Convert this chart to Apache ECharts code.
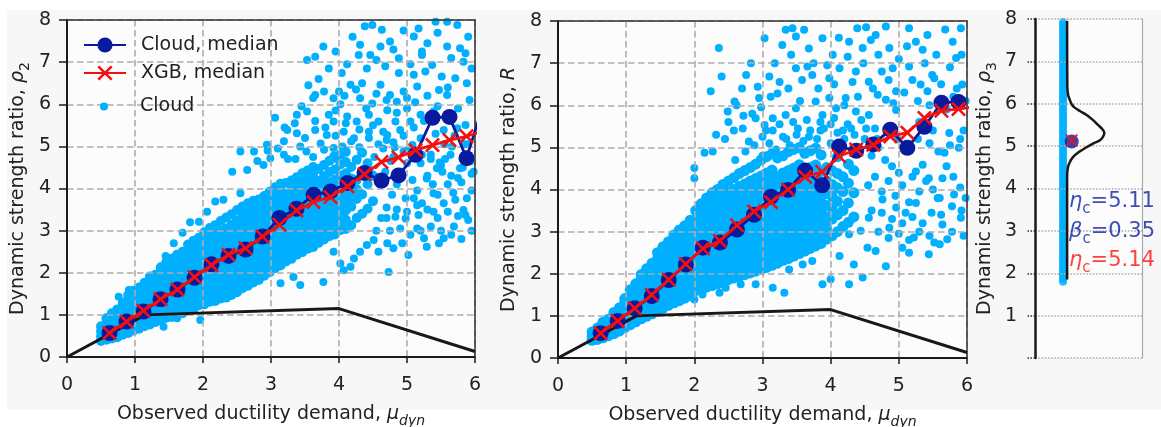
<!DOCTYPE html>
<html>
<head>
<meta charset="utf-8">
<script src="https://cdn.jsdelivr.net/npm/echarts/dist/echarts.min.js"></script>
<style>
  html, body { margin: 0; padding: 0; background: #ffffff; }
  #chart { width: 1161px; height: 427px; }
</style>
</head>
<body>
<div id="chart"></div>
<script>
// ---------------------------------------------------------------------------
// Data (all cloud coordinates are given in hundredths)
// ---------------------------------------------------------------------------

// Bin centres of the ductility demand used for the medians
const binMu = [0.625, 0.875, 1.125, 1.375, 1.625, 1.875, 2.125, 2.375, 2.625, 2.875,
  3.125, 3.375, 3.625, 3.875, 4.125, 4.375, 4.625, 4.875, 5.125, 5.375, 5.625, 5.875, 6.125];

// Panel 1 (rho_2): medians of the cloud and of the XGB prediction
const rho2CloudMedian = [0.57, 0.84, 1.08, 1.37, 1.60, 1.88, 2.20, 2.40, 2.55, 2.86,
  3.30, 3.52, 3.85, 3.93, 4.13, 4.37, 4.19, 4.31, 4.80, 5.68, 5.70, 4.72, 6.00];
const rho2XgbMedian = [0.57, 0.84, 1.10, 1.37, 1.60, 1.90, 2.18, 2.43, 2.58, 2.86,
  3.14, 3.48, 3.68, 3.80, 4.05, 4.34, 4.63, 4.74, 4.91, 5.03, 5.15, 5.24, 5.36];

// Panel 2 (R): medians of the cloud and of the XGB prediction
const rCloudMedian = [0.59, 0.88, 1.18, 1.47, 1.85, 2.22, 2.62, 2.74, 3.05, 3.40,
  3.83, 3.99, 4.45, 4.10, 5.02, 4.92, 5.07, 5.42, 4.99, 5.49, 6.06, 6.08];
const rXgbMedian = [0.59, 0.88, 1.18, 1.50, 1.86, 2.23, 2.60, 2.78, 3.15, 3.48,
  3.70, 4.00, 4.30, 4.42, 4.79, 4.95, 5.06, 5.26, 5.35, 5.70, 5.87, 5.91, 5.97];

// Backbone curve of the SDOF system
const backboneMu = [0, 1.15, 4.0, 6.0];
const backboneRho = [0, 1.0, 1.15, 0.13];

// Panel 1 cloud: dense core as columns [x, y1, y2, ...]
const rho2CloudCore = [
  [50, 38,49,61,73], [58, 41,53,66,79,92], [66, 44,56,69,81,94,104], [74, 47,60,72,86,99,113],
  [82, 53,65,79,92,105,118,128], [90, 57,71,84,98,111,125,137,147],
  [98, 63,76,90,105,118,131,146,157], [106, 67,80,95,109,122,137,151,165],
  [114, 73,87,100,115,129,144,158,176], [122, 77,91,106,119,135,149,164,178,191],
  [130, 83,97,113,126,142,155,171,185,195], [138, 87,102,116,132,145,161,176,190,204,213],
  [146, 93,107,124,137,154,168,183,197,213,225], [154, 95,111,126,142,157,173,188,203,218,233],
  [162, 101,117,131,148,163,179,195,210,226,243], [170, 104,121,136,153,168,185,201,216,233,250],
  [178, 111,126,143,158,175,191,206,223,239,254,267], [186, 114,131,147,164,180,197,212,229,245,261,276],
  [194, 123,139,156,172,189,205,222,238,254,270,283], [202, 125,143,159,176,194,210,227,245,261,278,296],
  [210, 131,147,165,182,199,217,233,251,268,285,306], [218, 133,151,168,186,203,221,238,256,273,291,313],
  [226, 139,157,174,193,210,228,246,263,282,299,323], [234, 141,160,177,196,214,232,251,268,287,305,331],
  [242, 147,165,184,202,221,239,258,277,295,314,339], [250, 154,172,191,210,229,248,267,286,305,324,349],
  [258, 163,181,201,219,239,258,277,297,316,335,357], [266, 169,188,207,227,246,266,285,305,324,344,365],
  [274, 177,196,216,236,255,275,294,314,334,353,371], [282, 183,203,223,243,262,282,302,322,342,362,374],
  [290, 193,213,232,253,272,293,312,332,352,371,382], [298, 201,221,241,261,281,301,321,341,361,381,392],
  [306, 211,230,251,270,291,310,331,350,370,388,403], [314, 217,237,257,278,297,318,338,358,378,396,411],
  [322, 227,246,267,286,307,327,347,367,387,413], [330, 233,254,274,294,314,335,355,375,396,419],
  [338, 243,263,283,304,324,345,365,386,406,427], [346, 249,270,290,311,332,352,373,393,414,436],
  [354, 257,277,298,319,340,360,381,402,422,443], [362, 261,282,303,324,345,366,387,408,429,451],
  [370, 271,292,313,334,355,376,397,418,446], [378, 279,300,321,342,364,385,406,429,456],
  [386, 287,308,330,351,372,394,415,439,466], [394, 291,313,334,356,377,399,420,445,473],
  [402, 301,322,344,366,387,409,431,457,481], [410, 304,326,348,370,392,414,436,463,487],
  [418, 313,357,380,402,424,451], [426, 330,375,398,420,468],
  [434, 340,386,433,485], [442, 352,410,460], [450, 370,430]
];
// Panel 1 cloud: scattered records as x,y pairs
const rho2CloudSparse = [
  449,788, 463,777, 517,780, 542,796, 559,796, 574,788,
  377,737, 395,725, 431,741, 461,737, 475,749, 510,761, 522,725, 559,737, 578,733, 586,721,
  353,705, 365,713, 429,717, 446,717, 488,709, 522,717, 537,693, 583,701,
  441,685, 488,674, 510,670, 527,678, 551,666, 571,662, 588,650,
  404,674, 417,646, 434,650, 461,646, 475,622, 495,630, 515,642, 547,634, 559,622,
  365,622, 392,614, 402,600, 431,614, 449,602, 471,586, 485,606, 500,590, 520,575, 539,583,
  338,575, 353,583, 385,575, 392,559, 412,571, 426,559, 444,575, 458,559, 483,559, 505,559, 586,551,
  306,568, 324,539, 338,531, 365,539, 382,527, 407,535, 422,519, 444,535, 471,527, 490,539, 520,519, 554,539, 574,543,
  255,488, 275,488, 294,504, 319,512, 343,500, 373,507, 392,496,
  243,440, 265,444, 289,456, 299,472, 319,480,
  336,470, 352,488, 362,475, 378,492, 392,478, 405,500, 418,512, 430,498, 444,520, 458,505, 470,515,
  482,498, 495,488, 508,503, 522,480, 535,470, 548,462,
  355,645, 370,660, 385,685, 400,630, 412,695, 420,760, 438,785, 455,705, 468,690, 480,730, 495,775,
  505,695, 530,745, 545,770, 565,710, 590,760, 595,685,
  345,595, 362,615, 378,630, 395,585, 408,620, 425,635, 440,590, 455,625, 470,610, 485,580, 500,615,
  512,605, 530,620, 545,595, 560,640, 575,590, 592,610,
  320,545, 335,555, 350,520, 365,560, 380,545, 395,525, 410,555, 430,540, 450,550, 465,535, 480,510,
  495,525, 510,545, 525,560, 542,530, 555,505, 570,525, 585,505,
  465,495, 480,475, 500,490, 520,460, 535,480, 550,455, 565,430, 580,415, 595,435,
  280,465, 295,490, 310,495, 325,470,
  564,480, 578,448, 593,464, 544,448, 529,424, 556,470, 566,500, 590,505,
  539,389, 571,373, 588,377, 595,395, 517,337, 539,345, 554,365, 583,349, 586,337,
  525,282, 529,262, 554,282, 547,270, 569,310, 493,270, 502,242, 471,270, 480,258, 473,202,
  515,305, 498,329, 510,377, 483,333, 498,377,
  455,300, 462,330, 470,355, 478,385, 485,410, 492,440, 500,460, 508,420, 515,395, 522,365,
  530,430, 538,410, 545,385, 552,440, 560,410, 568,390, 575,425, 582,450, 598,440,
  460,410, 468,440, 476,465, 452,475, 445,445,
  470,330, 485,350, 500,345, 515,360, 530,350, 545,330, 560,345, 575,335, 590,325,
  475,300, 490,305, 505,290, 520,300, 535,310, 550,300, 565,290, 580,280, 595,300,
  417,214, 407,206, 422,234, 377,178, 343,171, 314,175, 333,190, 294,200, 392,250, 402,222,
  431,250, 451,278, 458,250, 441,266,
  76,143, 91,159, 142,72, 196,88, 162,92, 125,100,
  157,270, 181,320, 194,321, 206,345, 218,369, 230,373, 255,389, 170,295, 145,240
];

// Panel 2 cloud: dense core as columns [x, y1, y2, ...]
const rCloudCore = [
  [50, 42,52,62], [58, 44,54,63,71], [66, 48,58,68,77,85], [74, 53,63,73,83,92],
  [82, 58,69,79,90,100,108], [90, 64,75,86,97,108,119], [98, 72,84,96,107,119,131,141],
  [106, 79,91,103,116,128,140,152,162], [114, 86,99,112,125,138,151,164,176],
  [122, 93,107,120,134,147,161,174,188,198], [130, 99,113,128,142,156,170,185,199,212],
  [138, 105,120,135,149,164,179,194,209,225], [146, 111,126,142,157,173,188,204,219,235,250],
  [154, 118,134,150,166,182,198,214,230,246,264], [162, 125,141,158,174,191,207,224,240,257,276],
  [170, 131,148,165,182,199,216,233,250,267,284,292], [178, 136,153,171,188,206,223,241,258,276,293,304],
  [186, 142,160,178,196,214,232,250,268,286,304,314], [194, 148,166,185,203,222,240,259,277,296,314,327],
  [202, 160,178,197,216,234,253,272,290,309,328,350], [210, 164,183,202,222,241,260,279,298,317,337,356,366],
  [218, 168,188,207,227,247,266,286,305,325,345,364,380], [226, 172,192,212,232,252,272,292,311,331,351,371,392],
  [234, 176,196,216,237,257,277,297,318,338,358,378,400], [242, 180,201,221,242,262,283,303,324,344,365,385,412],
  [250, 186,207,228,248,269,290,311,331,352,373,394,420], [258, 190,211,232,253,274,295,316,337,358,379,400,428],
  [266, 194,215,237,258,279,300,322,343,364,385,407,438], [274, 198,220,241,263,284,306,327,349,370,392,413,445],
  [282, 202,224,246,267,289,311,333,354,376,398,420,452], [290, 206,228,250,272,294,316,338,360,382,404,426,460],
  [298, 210,232,255,277,299,321,343,366,388,410,432,470], [306, 215,237,260,282,305,327,349,372,394,417,439,478],
  [314, 220,243,265,288,310,333,355,378,400,423,446,485], [322, 225,248,270,293,316,339,361,384,407,430,475],
  [330, 232,255,278,301,324,347,370,393,416,439,480], [338, 236,259,283,306,329,352,375,398,422,445,490],
  [346, 242,265,288,312,335,358,382,405,428,451,495], [354, 248,272,295,318,342,365,389,412,436,459,500],
  [362, 254,278,302,326,350,373,397,421,445,486], [370, 260,284,308,332,356,380,404,428,452,492],
  [378, 266,290,314,338,362,386,410,434,458,498], [386, 272,296,321,345,369,394,418,443,482],
  [394, 282,310,335,362,390,420,452], [402, 290,330,356,384,412,445],
  [410, 300,340,372,404,438,478], [418, 312,350,395,430],
  [426, 322,368,415,460], [434, 335,392,445]
];
// Panel 2 cloud: scattered records as x,y pairs
const rCloudSparse = [
  236,736, 224,633, 240,668, 276,672, 249,585, 259,609, 232,530,
  200,451, 200,427, 215,487, 227,490,
  283,700, 295,617, 293,644, 303,759, 310,668, 322,628, 329,743, 334,779, 344,783, 349,763, 361,779,
  349,688, 366,692, 373,672, 388,759, 403,720, 398,664, 413,688, 427,751, 439,783, 447,736, 437,680,
  459,755, 466,767, 481,787, 486,736, 491,688, 515,783, 525,751, 535,732, 542,767, 549,672, 579,751,
  584,712, 591,783, 515,692, 532,649, 552,664, 542,633, 593,649,
  456,656, 469,625, 481,613, 496,633, 496,589, 456,577, 437,585, 422,617, 408,593, 398,617, 378,609,
  388,577, 349,593, 334,577, 315,569, 303,553, 290,569, 280,514, 271,545,
  250,560, 262,600, 270,640, 285,580, 298,595, 312,620, 318,700, 325,655, 338,640, 342,720, 355,610,
  358,660, 368,735, 375,700, 382,640, 395,695, 405,650, 412,760, 420,600, 425,715, 432,655, 440,620,
  448,700, 452,785, 462,640, 470,720, 475,680, 485,660, 492,605, 500,710, 508,630, 512,740, 520,660,
  528,610, 538,700, 545,600, 555,720, 562,650, 568,780, 575,690, 585,640, 592,720, 598,610,
  300,525, 315,540, 335,520, 352,545, 368,525, 385,540, 400,555, 418,540, 435,530, 452,545, 468,520,
  482,540, 498,520, 512,500, 528,520, 545,510, 558,490, 575,505, 590,520,
  260,470, 275,490, 288,505, 245,520, 258,540, 272,575,
  567,487, 574,534, 588,499, 535,459, 525,443, 544,427, 564,427,
  591,333, 581,388, 564,317, 552,274, 544,246, 571,282, 522,286, 515,250, 505,262, 486,309, 481,218,
  466,254, 454,262, 447,191, 434,222, 427,175, 413,242, 400,187, 388,175, 373,230, 359,222, 339,210,
  332,155, 315,167, 290,175, 268,175, 246,167, 237,155, 212,151, 200,139,
  525,368, 510,345, 557,380, 496,357, 476,376, 456,333, 444,302, 427,294,
  460,350, 475,345, 490,330, 505,320, 520,335, 535,320, 548,345, 562,340, 578,360, 592,350,
  470,300, 485,285, 500,295, 515,280, 530,300, 545,290, 560,270, 578,300, 595,290,
  300,480, 310,510, 320,495, 330,525, 340,505, 350,530, 360,515, 370,540, 380,520, 390,545, 400,510,
  410,535, 420,520, 430,545, 440,500, 450,520, 460,480, 470,500, 480,470, 490,455, 500,440,
  305,540, 325,555, 345,560, 365,565, 385,560, 405,570, 425,555, 445,565, 465,545,
  455,410, 465,430, 475,395, 485,420, 495,385, 505,410, 515,370, 520,430, 530,395, 540,420, 550,400,
  560,380, 570,455, 580,430, 590,405, 598,380,
  530,560, 550,540, 570,590, 590,600, 595,540, 580,620, 560,600
];

// Panel 3 (rho_3): cloud values, hundredths
const rho3Cloud = [
  180,185,189,196,201,207,214,218,225,231,236,243,249,254,261,267,272,279,285,290,297,302,309,314,
  320,327,332,338,345,350,356,363,368,374,381,386,392,399,404,410,416,421,428,434,439,446,451,457,
  463,468,474,480,485,492,497,503,509,514,520,527,532,538,544,549,556,561,567,573,578,585,590,596,
  602,607,614,619,625,631,636,643,648,654,660,665,672,677,683,689,694,701,706,712,718,723,730,735,
  741,747,752,759,764,770,776,781,787,793
];
// Fitted density drawn beside the cloud: rho_3 level and horizontal offset
const pdfRho = [1.85, 4.30, 4.50, 4.62, 4.74, 4.86, 4.98, 5.07, 5.14, 5.22, 5.31, 5.40, 5.50,
  5.62, 5.73, 5.83, 5.92, 6.00, 6.08, 6.20, 6.40, 7.95];
const pdfOffset = [0.300, 0.300, 0.308, 0.325, 0.355, 0.410, 0.486, 0.550, 0.607, 0.635, 0.648, 0.630,
  0.589, 0.540, 0.486, 0.420, 0.365, 0.340, 0.327, 0.310, 0.302, 0.300];
const etaCloud = 5.11;
const betaCloud = 0.35;
const etaXgb = 5.14;

// ---------------------------------------------------------------------------
// Helpers
// ---------------------------------------------------------------------------
const fromColumns = cols => {
  const out = [];
  cols.forEach(c => { for (let i = 1; i < c.length; i++) out.push([c[0] / 100, c[i] / 100]); });
  return out;
};
const fromPairs = a => {
  const out = [];
  for (let i = 0; i < a.length; i += 2) out.push([a[i] / 100, a[i + 1] / 100]);
  return out;
};
const zip = (xs, ys) => ys.map((y, i) => [xs[i], y]);

const FONT = 'DejaVu Sans';
const INK = '#222222';
const CLOUD = '#00b0ff';
const NAVY = '#0a1a9c';
const RED = '#f50f0f';
const TEXT_BLUE = '#0f21a0';
const TEXT_RED = '#ff1010';
const XMARK = 'path://M0,1.2L1.2,0L5,3.8L8.8,0L10,1.2L6.2,5L10,8.8L8.8,10L5,6.2L1.2,10L0,8.8L3.8,5Z';

const nameStyle = {
  fontSize: 19, fontFamily: FONT, color: INK, lineHeight: 28,
  rich: {
    i: { fontSize: 19, fontFamily: FONT, color: INK, fontStyle: 'italic', lineHeight: 28 },
    s: { fontSize: 14, fontFamily: FONT, color: INK, lineHeight: 16, verticalAlign: 'bottom' },
    si: { fontSize: 14, fontFamily: FONT, color: INK, fontStyle: 'italic', lineHeight: 16, verticalAlign: 'bottom' }
  }
};
const tickFont = { fontSize: 19, fontFamily: FONT, color: INK };
const dashed = { color: '#acacac', width: 1.6, type: [6.5, 3.5] };

function mainX(gi) {
  return [{
    gridIndex: gi, type: 'value', min: 0, max: 6, interval: 1, position: 'bottom', z: 3,
    axisLine: { show: true, onZero: false, lineStyle: { color: '#1a1a1a', width: 2 } },
    axisTick: { show: true, length: 6, lineStyle: { color: '#1a1a1a', width: 1.5 } },
    axisLabel: Object.assign({ margin: 19 }, tickFont),
    splitLine: { show: true, lineStyle: dashed },
    name: 'Observed ductility demand, {i|μ}{si|dyn}', nameLocation: 'middle', nameGap: 41,
    nameTextStyle: nameStyle
  }, {
    gridIndex: gi, type: 'value', min: 0, max: 6, position: 'top', z: 4,
    axisLine: { show: true, onZero: false, lineStyle: { color: '#333333', width: 1.5 } },
    axisTick: { show: false }, axisLabel: { show: false }, splitLine: { show: false }
  }];
}
function mainY(gi, name) {
  return [{
    gridIndex: gi, type: 'value', min: 0, max: 8, interval: 1, position: 'left', z: 3,
    axisLine: { show: true, onZero: false, lineStyle: { color: '#1a1a1a', width: 2 } },
    axisTick: { show: true, length: 8, lineStyle: { color: '#1a1a1a', width: 1.5 } },
    axisLabel: Object.assign({ margin: 16 }, tickFont),
    splitLine: { show: true, lineStyle: dashed },
    name: name, nameLocation: 'middle', nameGap: 35, nameTextStyle: nameStyle
  }, {
    gridIndex: gi, type: 'value', min: 0, max: 8, position: 'right', z: 4,
    axisLine: { show: true, onZero: false, lineStyle: { color: '#333333', width: 1.5 } },
    axisTick: { show: false }, axisLabel: { show: false }, splitLine: { show: false }
  }];
}

function panelSeries(xi, yi, core, coreSize, sparse, cloudMed, xgbMed) {
  return [
    { type: 'scatter', name: 'Cloud', xAxisIndex: xi, yAxisIndex: yi, z: 1,
      data: fromColumns(core), symbol: 'circle', symbolSize: coreSize,
      itemStyle: { color: CLOUD, opacity: 1 } },
    { type: 'scatter', name: 'Cloud', xAxisIndex: xi, yAxisIndex: yi, z: 1,
      data: fromPairs(sparse), symbol: 'circle', symbolSize: 8,
      itemStyle: { color: CLOUD, opacity: 1 } },
    { type: 'line', name: 'backbone', xAxisIndex: xi, yAxisIndex: yi, z: 4, silent: true,
      data: zip(backboneMu, backboneRho), symbol: 'none',
      lineStyle: { color: '#1c1614', width: 3 } },
    { type: 'line', name: 'Cloud, median', xAxisIndex: xi, yAxisIndex: yi, z: 5,
      data: zip(binMu, cloudMed), symbol: 'circle', symbolSize: 16, showAllSymbol: true,
      lineStyle: { color: NAVY, width: 2.8 }, itemStyle: { color: NAVY } },
    { type: 'line', name: 'XGB, median', xAxisIndex: xi, yAxisIndex: yi, z: 6,
      data: zip(binMu, xgbMed), symbol: XMARK, symbolSize: 15, showAllSymbol: true,
      lineStyle: { color: RED, width: 2.8 }, itemStyle: { color: RED } }
  ];
}

const legendBase = {
  orient: 'vertical', left: 83, itemWidth: 42, selectedMode: false, padding: 0,
  textStyle: { fontSize: 19, fontFamily: FONT, color: INK, padding: [0, 0, 0, 10] }
};

const option = {
  animation: false,
  backgroundColor: '#ffffff',
  graphic: [{
    type: 'rect', left: 7, top: 10, z: -10, silent: true,
    shape: { width: 1154, height: 400 }, style: { fill: '#f7f7f7' }
  }],
  grid: [
    { left: 67, top: 20, width: 408, height: 337, show: true, backgroundColor: '#fcfcfc', borderWidth: 0, outerBoundsMode: 'none' },
    { left: 558, top: 21, width: 409, height: 337, show: true, backgroundColor: '#fcfcfc', borderWidth: 0, outerBoundsMode: 'none' },
    { left: 1035, top: 19, width: 107, height: 339, show: true, backgroundColor: '#fcfcfc', borderWidth: 0, outerBoundsMode: 'none' }
  ],
  xAxis: [
    ...mainX(0), ...mainX(1),
    { gridIndex: 2, type: 'value', min: 0, max: 1, show: false }
  ],
  yAxis: [
    ...mainY(0, 'Dynamic strength ratio, {i|ρ}{s|2}'),
    ...mainY(1, 'Dynamic strength ratio, {i|R}'),
    {
      gridIndex: 2, type: 'value', min: 0, max: 8, interval: 1, position: 'left', z: 3,
      axisLine: { show: true, onZero: false, lineStyle: { color: '#1a1a1a', width: 2.5 } },
      axisTick: { show: true, length: 9, lineStyle: { color: '#333333', width: 1.5, type: 'dotted' } },
      axisLabel: Object.assign({ margin: 18, formatter: v => (v === 0 ? '' : String(v)) }, tickFont),
      splitLine: { show: true, lineStyle: { color: '#acacac', width: 1.6, type: 'dotted' } },
      name: 'Dynamic strength ratio, {i|ρ}{s|3}', nameLocation: 'middle', nameGap: 36,
      nameTextStyle: nameStyle
    },
    {
      gridIndex: 2, type: 'value', min: 0, max: 8, position: 'right', z: 4,
      axisLine: { show: true, onZero: false, lineStyle: { color: '#a8a8a8', width: 1.2 } },
      axisTick: { show: false }, axisLabel: { show: false }, splitLine: { show: false }
    }
  ],
  legend: [
    Object.assign({}, legendBase, { top: 35.5, itemHeight: 19, data: ['Cloud, median'] }),
    Object.assign({}, legendBase, { top: 63.5, itemHeight: 19, data: ['XGB, median'] }),
    Object.assign({}, legendBase, { left: 100, top: 97, itemHeight: 8, data: [{ name: 'Cloud', icon: 'circle' }] })
  ],
  series: [
    ...panelSeries(0, 0, rho2CloudCore, 10, rho2CloudSparse, rho2CloudMedian, rho2XgbMedian),
    ...panelSeries(2, 2, rCloudCore, 11, rCloudSparse, rCloudMedian, rXgbMedian),
    { type: 'scatter', name: 'Cloud', xAxisIndex: 4, yAxisIndex: 4, z: 1,
      data: rho3Cloud.map(v => [0.262, v / 100]), symbolSize: 8, itemStyle: { color: CLOUD } },
    { type: 'line', name: 'pdf', xAxisIndex: 4, yAxisIndex: 4, z: 4, silent: true,
      data: zip(pdfOffset, pdfRho), symbol: 'none', smooth: 0.3,
      lineStyle: { color: '#1c1614', width: 2.5 } },
    { type: 'scatter', name: 'Cloud, median', xAxisIndex: 4, yAxisIndex: 4, z: 5,
      data: [[0.343, etaCloud]], symbol: 'circle', symbolSize: 14, itemStyle: { color: NAVY } },
    { type: 'scatter', name: 'XGB, median', xAxisIndex: 4, yAxisIndex: 4, z: 6,
      data: [[0.343, etaXgb]], symbol: XMARK, symbolSize: 13, itemStyle: { color: RED } },
    { type: 'scatter', name: 'stats', xAxisIndex: 4, yAxisIndex: 4, z: 7, silent: true,
      symbolSize: 0,
      label: {
        show: true, position: 'right', distance: 0, verticalAlign: 'middle',
        rich: {
          gb: { fontSize: 21, fontFamily: FONT, fontStyle: 'italic', color: TEXT_BLUE, lineHeight: 30 },
          sb: { fontSize: 15, fontFamily: FONT, color: TEXT_BLUE, lineHeight: 17, verticalAlign: 'bottom' },
          vb: { fontSize: 21, fontFamily: FONT, color: TEXT_BLUE, lineHeight: 30 },
          gr: { fontSize: 21, fontFamily: FONT, fontStyle: 'italic', color: TEXT_RED, lineHeight: 30 },
          sr: { fontSize: 15, fontFamily: FONT, color: TEXT_RED, lineHeight: 17, verticalAlign: 'bottom' },
          vr: { fontSize: 21, fontFamily: FONT, color: TEXT_RED, lineHeight: 30 }
        }
      },
      data: [
        { value: [0.318, 3.70], label: { formatter: '{gb|η}{sb|c}{vb|=' + etaCloud.toFixed(2) + '}' } },
        { value: [0.318, 2.99], label: { formatter: '{gb|β}{sb|c}{vb|=' + betaCloud.toFixed(2) + '}' } },
        { value: [0.318, 2.31], label: { formatter: '{gr|η}{sr|c}{vr|=' + etaXgb.toFixed(2) + '}' } }
      ]
    }
  ]
};

const chart = echarts.init(document.getElementById('chart'), null, { renderer: 'canvas' });
chart.setOption(option);
</script>
</body>
</html>
